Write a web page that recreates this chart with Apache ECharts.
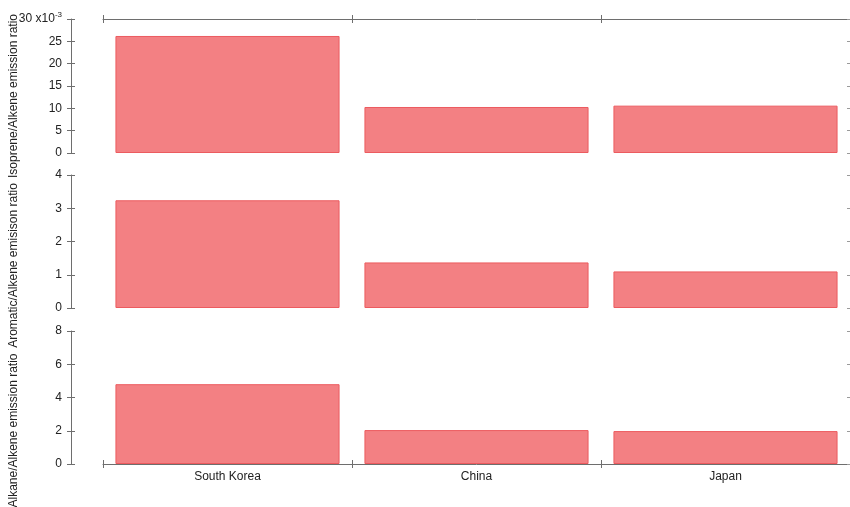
<!DOCTYPE html>
<html>
<head>
<meta charset="utf-8">
<script src="https://cdn.jsdelivr.net/npm/echarts@6/dist/echarts.min.js"></script>
<style>
  html, body { margin: 0; padding: 0; background: #fff; }
  #chart { width: 850px; height: 507px; }
</style>
</head>
<body>
<div id="chart"></div>
<script>
// Emission ratios by country (three stacked panels)
const categories = ['South Korea', 'China', 'Japan'];
const isopreneRatio = [0.0262, 0.0103, 0.0106];   // Isoprene/Alkene
const aromaticRatio = [3.24, 1.37, 1.10];          // Aromatic/Alkene
const alkaneRatio = [4.80, 2.04, 1.98];            // Alkane/Alkene

const panelNames = [
  'Isoprene/Alkene emission ratio',
  'Aromatic/Alkene emisison ratio',
  'Alkane/Alkene emission ratio'
];

const FONT = 'Arial, "Liberation Sans", Helvetica, sans-serif';
const AXIS = '#6e6e6e';
const TEXT = '#222';
const BAR_FILL = '#f38083';
const BAR_EDGE = '#ec5b5f';

const grids = [
  { left: 103, width: 747, top: 19, height: 134, outerBoundsMode: 'none', containLabel: false },
  { left: 103, width: 747, top: 175, height: 133, outerBoundsMode: 'none', containLabel: false },
  { left: 103, width: 747, top: 331, height: 133, outerBoundsMode: 'none', containLabel: false }
];

const scales = [
  { min: 0, max: 0.03, interval: 0.005 },
  { min: 0, max: 4, interval: 1 },
  { min: 0, max: 8, interval: 2 }
];

// shift of each rotated axis title along its axis (padding on the far side)
const nameShift = [20, 48, 66];

function topLabel(v) {
  const n = Math.round(v * 1000);
  return n === 30 ? '{n|30 x10}{s|-3}' : String(n);
}

const yAxis = [];
scales.forEach((s, i) => {
  // labelled left axis with outward ticks
  yAxis.push({
    type: 'value', gridIndex: i, position: 'left', offset: 32,
    min: s.min, max: s.max, interval: s.interval,
    name: panelNames[i], nameLocation: 'middle', nameGap: 51, nameMoveOverlap: false,
    nameTextStyle: { fontFamily: FONT, fontSize: 12, color: TEXT, padding: [0, nameShift[i], 0, 0] },
    axisLine: { show: true, onZero: false, lineStyle: { color: AXIS, width: 1 } },
    axisTick: { show: true, inside: false, length: 4, lineStyle: { color: AXIS } },
    axisLabel: {
      fontFamily: FONT, fontSize: 12, color: TEXT, margin: 9,
      formatter: i === 0 ? topLabel : (v => String(v)),
      rich: {
        n: { fontFamily: FONT, fontSize: 12, color: TEXT },
        s: { fontFamily: FONT, fontSize: 8, color: TEXT, padding: [0, 0, 8, 0] }
      }
    },
    splitLine: { show: false }
  });
  // inward half of the crossing ticks
  yAxis.push({
    type: 'value', gridIndex: i, position: 'left', offset: 32,
    min: s.min, max: s.max, interval: s.interval,
    axisLine: { show: false, onZero: false },
    axisTick: { show: true, inside: true, length: 4, lineStyle: { color: AXIS } },
    axisLabel: { show: false },
    splitLine: { show: false }
  });
  // small mirror ticks on the right edge
  yAxis.push({
    type: 'value', gridIndex: i, position: 'right',
    min: s.min, max: s.max, interval: s.interval,
    axisLine: { show: false, onZero: false },
    axisTick: { show: true, inside: true, length: 3, lineStyle: { color: '#9a9a9a' } },
    axisLabel: { show: false },
    splitLine: { show: false }
  });
});

const catBase = { type: 'category', data: categories, boundaryGap: true };
const xAxis = [
  // top panel: axis along the top edge, crossing ticks
  Object.assign({}, catBase, {
    gridIndex: 0, position: 'top',
    axisLine: { show: true, onZero: false, lineStyle: { color: AXIS } },
    axisTick: { show: true, inside: false, length: 4, lineStyle: { color: AXIS } },
    axisLabel: { show: false }
  }),
  Object.assign({}, catBase, {
    gridIndex: 0, position: 'top',
    axisLine: { show: false, onZero: false },
    axisTick: { show: true, inside: true, length: 4, lineStyle: { color: AXIS } },
    axisLabel: { show: false }
  }),
  // middle panel: no axis drawn
  Object.assign({}, catBase, {
    gridIndex: 1, position: 'bottom',
    axisLine: { show: false, onZero: false }, axisTick: { show: false }, axisLabel: { show: false }
  }),
  // bottom panel: labelled category axis
  Object.assign({}, catBase, {
    gridIndex: 2, position: 'bottom',
    axisLine: { show: true, onZero: false, lineStyle: { color: AXIS } },
    axisTick: { show: true, inside: false, length: 4, lineStyle: { color: AXIS } },
    axisLabel: { fontFamily: FONT, fontSize: 12, color: TEXT, margin: 7 }
  }),
  Object.assign({}, catBase, {
    gridIndex: 2, position: 'bottom',
    axisLine: { show: false, onZero: false },
    axisTick: { show: true, inside: true, length: 4, lineStyle: { color: AXIS } },
    axisLabel: { show: false }
  })
];

const barStyle = { color: BAR_FILL, borderColor: BAR_EDGE, borderWidth: 1 };
const seriesData = [isopreneRatio, aromaticRatio, alkaneRatio];
const xIdx = [0, 2, 3];
const series = seriesData.map((d, i) => ({
  type: 'bar', xAxisIndex: xIdx[i], yAxisIndex: i * 3,
  data: d, barCategoryGap: '10%', itemStyle: barStyle,
  silent: true, animation: false
}));

const chart = echarts.init(document.getElementById('chart'), null, { renderer: 'canvas' });
chart.setOption({
  animation: false,
  backgroundColor: '#fff',
  grid: grids,
  xAxis: xAxis,
  yAxis: yAxis,
  series: series
});
</script>
</body>
</html>
